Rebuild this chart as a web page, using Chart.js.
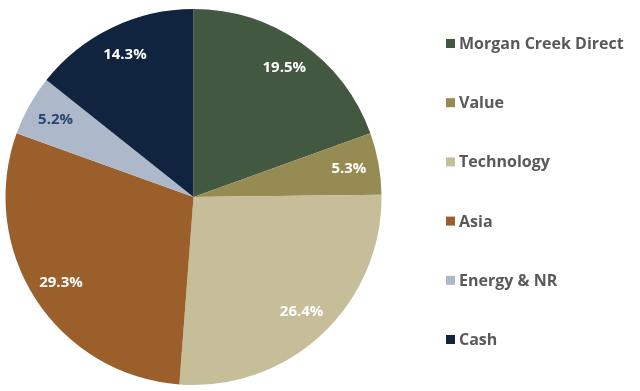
<!DOCTYPE html>
<html>
<head>
<meta charset="utf-8">
<script src="https://cdn.jsdelivr.net/npm/chart.js@4/dist/chart.umd.min.js"></script>
<style>
  body { margin: 0; background: #fff; }
  #wrap { width: 640px; height: 391px; position: relative; }
</style>
</head>
<body>
<div id="wrap"><canvas id="allocChart"></canvas></div>
<script>
const labels = ["Morgan Creek Direct", "Value", "Technology", "Asia", "Energy & NR", "Cash"];
const weights = [19.5, 5.3, 26.4, 29.3, 5.2, 14.3];
const colors = ["#435840", "#958b53", "#c5be98", "#9a5f2b", "#adb9cb", "#10243f"];
const labelColors = ["#ffffff", "#ffffff", "#ffffff", "#ffffff", "#2c4470", "#ffffff"];

// percentage labels inside each slice
const sliceLabels = {
  id: "sliceLabels",
  afterDatasetsDraw(chart) {
    const ctx = chart.ctx;
    const meta = chart.getDatasetMeta(0);
    ctx.save();
    ctx.font = "bold 15px 'Open Sans', sans-serif";
    ctx.textAlign = "center";
    ctx.textBaseline = "middle";
    meta.data.forEach((arc, i) => {
      const p = arc.getProps(["x", "y", "startAngle", "endAngle", "outerRadius"]);
      const mid = (p.startAngle + p.endAngle) / 2;
      const r = p.outerRadius * 0.84;
      ctx.fillStyle = labelColors[i];
      ctx.fillText(weights[i].toFixed(1) + "%", p.x + Math.cos(mid) * r, p.y + Math.sin(mid) * r);
    });
    ctx.restore();
  }
};

// legend on the right, one row per category
const sideLegend = {
  id: "sideLegend",
  afterDraw(chart) {
    const ctx = chart.ctx;
    const ds = chart.data.datasets[0];
    ctx.save();
    ctx.font = "bold 16px 'Open Sans', sans-serif";
    ctx.textBaseline = "middle";
    chart.data.labels.forEach((lab, i) => {
      const y = 43.5 + i * 59.2;
      ctx.fillStyle = ds.backgroundColor[i];
      ctx.fillRect(446, y - 4.5, 9, 9);
      ctx.fillStyle = "#595959";
      ctx.fillText(lab, 459, y + 1);
    });
    ctx.restore();
  }
};

new Chart(document.getElementById("allocChart"), {
  type: "pie",
  data: {
    labels: labels,
    datasets: [{
      data: weights,
      backgroundColor: colors,
      borderWidth: 0
    }]
  },
  options: {
    responsive: true,
    maintainAspectRatio: false,
    animation: false,
    layout: { padding: { left: 5, top: 9, bottom: 6, right: 258 } },
    plugins: {
      legend: { display: false },
      tooltip: { enabled: false }
    }
  },
  plugins: [sliceLabels, sideLegend]
});
</script>
</body>
</html>
